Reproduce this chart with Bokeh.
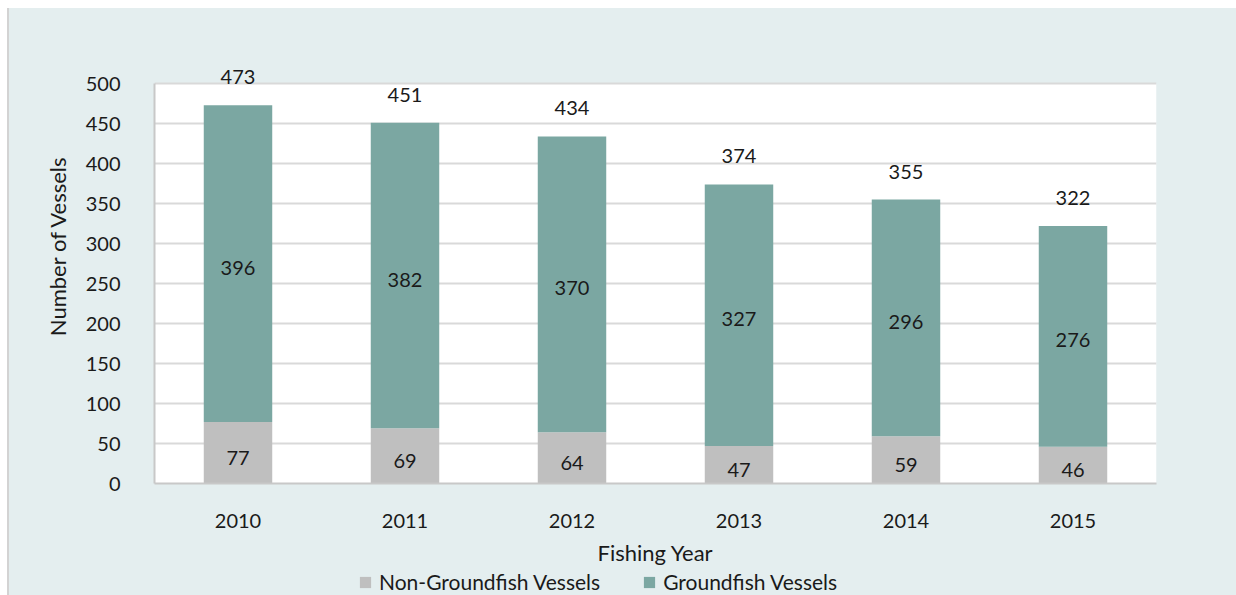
from bokeh.plotting import figure
from bokeh.layouts import column
from bokeh.models import ColumnDataSource, Range1d, FactorRange, Legend, LegendItem, LabelSet, BoxAnnotation
from bokeh.core.properties import value
from bokeh.embed import file_html
from bokeh.resources import INLINE

years = ["2010", "2011", "2012", "2013", "2014", "2015"]
non_groundfish = [77, 69, 64, 47, 59, 46]
groundfish = [396, 382, 370, 327, 296, 276]
totals = [473, 451, 434, 374, 355, 322]
y_ticks = [0, 50, 100, 150, 200, 250, 300, 350, 400, 450, 500]
series_names = ["Non-Groundfish Vessels", "Groundfish Vessels"]
series_colors = ["#BFBFBF", "#7BA7A2"]

FONT = "Lato"
TXT = "#1a1a1a"
BG = "#E4EEEF"

src = ColumnDataSource(dict(
    year=years,
    non=non_groundfish,
    gf=groundfish,
    total=totals,
    non_mid=[n / 2 for n in non_groundfish],
    gf_mid=[n + g / 2 for n, g in zip(non_groundfish, groundfish)],
    non_lbl=[str(v) for v in non_groundfish],
    gf_lbl=[str(v) for v in groundfish],
    tot_lbl=[str(v) for v in totals],
))

p = figure(width=1229, height=560, x_range=FactorRange(*years), y_range=Range1d(0, 594),
           output_backend="svg", toolbar_location=None,
           min_border_left=145, min_border_right=82, min_border_top=0, min_border_bottom=85)
p.background_fill_color = BG
p.border_fill_color = BG
p.outline_line_color = None

p.add_layout(BoxAnnotation(bottom=0, top=500, fill_color="white", fill_alpha=1,
                           line_color=None, level="image"))

r = p.vbar_stack(["non", "gf"], x="year", width=0.41, source=src,
                 color=series_colors, line_color=None)

for col_y, col_t, off in [("non_mid", "non_lbl", -5), ("gf_mid", "gf_lbl", -4), ("total", "tot_lbl", 28)]:
    p.add_layout(LabelSet(x="year", y=col_y, text=col_t, source=src, text_align="center",
                          text_baseline="middle", y_offset=off, text_font=value(FONT),
                          text_font_size="20px", text_color=TXT))

p.yaxis.ticker = y_ticks
p.yaxis.bounds = (0, 500)
p.xgrid.grid_line_color = None
p.ygrid.grid_line_color = "#D9D9D9"
p.ygrid.grid_line_width = 2

for ax in (p.xaxis[0], p.yaxis[0]):
    ax.axis_line_color = "#C8C8C8"
    ax.axis_line_width = 2
    ax.major_tick_line_color = None
    ax.minor_tick_line_color = None
    ax.major_label_text_font = FONT
    ax.major_label_text_font_size = "20px"
    ax.major_label_text_color = TXT
    ax.axis_label_text_font = FONT
    ax.axis_label_text_font_size = "22px"
    ax.axis_label_text_color = TXT
    ax.axis_label_text_font_style = "normal"

p.xaxis.axis_label = "Fishing Year"
p.yaxis.axis_label = "Number of Vessels"
p.xaxis.major_label_standoff = 24
p.xaxis.axis_label_standoff = 8
p.yaxis.major_label_standoff = 28
p.yaxis.axis_label_standoff = 12

# legend strip below the chart
lp = figure(width=1229, height=27, x_range=Range1d(0, 1), y_range=Range1d(0, 1),
            output_backend="svg", toolbar_location=None,
            min_border_left=0, min_border_right=0, min_border_top=0, min_border_bottom=0)
lp.axis.visible = False
lp.grid.visible = False
lp.outline_line_color = None
lp.background_fill_color = BG
lp.border_fill_color = BG
# zero-size proxy bars: only their legend swatches show
proxies = [lp.vbar(x=[0], top=[0], bottom=[0], width=0, color=c, line_color=None) for c in series_colors]

legend = Legend(items=[LegendItem(label=n, renderers=[pr]) for n, pr in zip(series_names, proxies)],
                orientation="horizontal", location=(204, 1),
                background_fill_alpha=0, border_line_color=None,
                label_text_font=FONT, label_text_font_size="21px", label_text_color=TXT,
                glyph_width=14, glyph_height=14, spacing=42, padding=0, margin=0,
                label_standoff=7)
lp.add_layout(legend, "center")

layout = column(p, lp, spacing=0)
layout.margin = (8, 0, 0, 7)
layout.styles = {"border-left": "2px solid #D3D3D3", "background-color": BG}

open("out.html", "w").write(file_html(layout, INLINE))
